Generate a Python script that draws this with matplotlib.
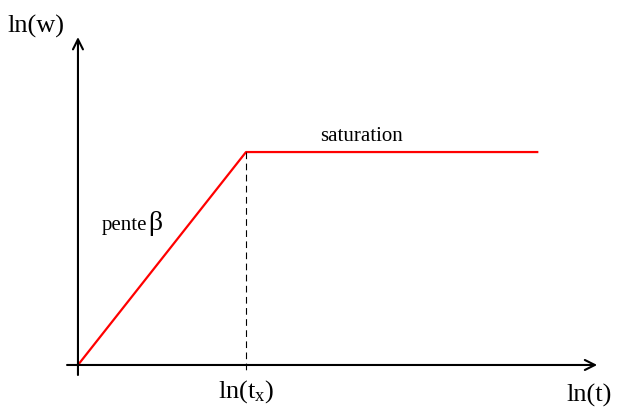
import matplotlib

matplotlib.use('Agg')

import matplotlib.pyplot as plt

plt.rcParams['font.family'] = ['Liberation Serif', 'DejaVu Serif']
plt.rcParams['mathtext.fontset'] = 'custom'
plt.rcParams['mathtext.rm'] = 'Liberation Serif'
plt.rcParams['mathtext.it'] = 'Liberation Serif'

# courbe ln(w) = f(ln(t)) : montee de pente beta puis saturation
t_vals = [0.0, 1.0, 2.74]
w_vals = [0.0, 1.0, 1.0]
t_x = 1.0
w_sat = 1.0

fig = plt.figure(figsize=(6.18, 4.08), dpi=100)
ax = fig.add_axes([0, 0, 1, 1])
ax.set_xlim(-0.464, 3.214)
ax.set_ylim(-0.202, 1.714)
ax.axis('off')

# axes avec fleches
arrow = dict(arrowstyle='->', lw=1.5, color='black', mutation_scale=18,
             shrinkA=0, shrinkB=0)
ax.annotate('', xy=(3.09, 0), xytext=(-0.065, 0), arrowprops=arrow)
ax.annotate('', xy=(0, 1.54), xytext=(0, -0.047), arrowprops=arrow)

# courbe rouge
ax.plot(t_vals, w_vals, color='red', lw=1.6, solid_capstyle='butt')

# pointilles a t_x
ax.plot([t_x, t_x], [w_sat, -0.033], color='black', lw=0.8,
        linestyle=(0, (6, 4)))

ax.text(-0.417, 1.559, 'ln(w)', fontsize=19, ha='left', va='baseline')
ax.text(2.905, -0.172, 'ln(t)', fontsize=19, ha='left', va='baseline')
ax.text(t_x, -0.155, r'ln(t$_{\mathrm{x}}$)', fontsize=19, ha='center',
        va='baseline')
ax.text(1.44, 1.052, 'saturation', fontsize=15, ha='left', va='baseline')
ax.text(0.143, 0.634, 'pente', fontsize=15, ha='left', va='baseline')
ax.text(0.42, 0.634, 'β', fontsize=20, ha='left', va='baseline')

fig.savefig('out.png', dpi=100)
